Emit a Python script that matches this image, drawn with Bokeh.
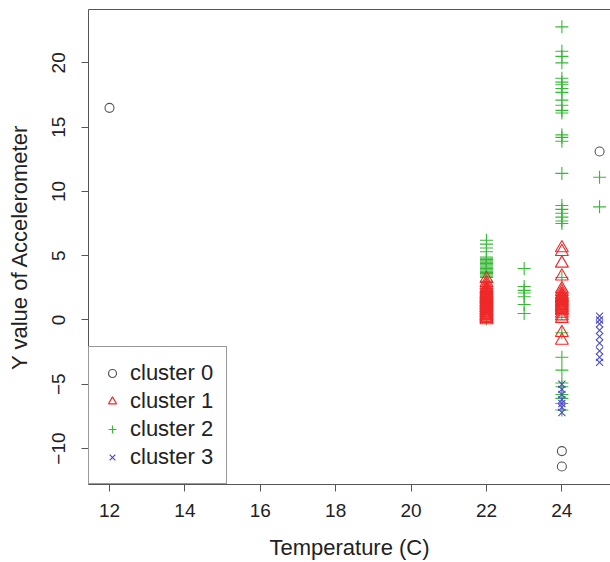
from bokeh.plotting import figure
from bokeh.models import Range1d, FixedTicker, LinearAxis, Legend, LegendItem, ColumnDataSource
from bokeh.embed import file_html
from bokeh.resources import INLINE

# ---- data ----
# cluster 0 (circles)
c0_temp = [12, 24, 24, 25]
c0_y = [16.5, -10.2, -11.4, 13.1]

# cluster 1 (triangles)
c1_y_at22 = [0.0, 0.1, 0.15, 0.2, 0.3, 0.35, 0.4, 0.5, 0.55, 0.6, 0.7, 0.75, 0.8, 0.9, 0.95,
             1.0, 1.1, 1.15, 1.2, 1.3, 1.35, 1.4, 1.5, 1.55, 1.6, 1.7, 1.75, 1.8, 1.9, 1.95,
             2.0, 2.1, 2.2, 2.3, 2.4, 2.5, 2.7, 2.9, 3.2]
c1_y_at24 = [5.6, 5.3, 4.4, 3.4, 2.4, 2.2, 2.0, 1.9, 1.8, 1.7, 1.6, 1.5, 1.4, 1.3, 1.2,
             1.1, 1.0, 0.9, 0.8, 0.7, 0.5, 0.3, 0.1, -1.0, -1.6]

# cluster 2 (plus signs)
c2_y_at22 = [6.2, 5.9, 5.6, 5.3, 4.9, 4.8, 4.7, 4.6, 4.5, 4.4, 4.3, 4.2, 4.1, 4.0, 3.9,
             3.8, 3.7, 3.6, 3.5, 3.4, 3.3, 3.0, 2.6, 2.2, 1.5, 0.5, 0.1]
c2_y_at23 = [4.0, 2.6, 2.3, 2.1, 1.8, 1.2, 0.5]
c2_y_at24 = [22.8, 20.9, 20.5, 20.0, 18.8, 18.5, 18.3, 18.0, 17.7, 17.1, 16.7, 16.3, 16.1,
             14.4, 14.2, 13.9, 11.4, 8.9, 8.6, 8.3, 8.0, 7.7, 7.5, 3.3, 1.5, 0.5, -1.0,
             -2.9, -3.9, -4.9, -5.2, -5.8, -6.1, -6.5, -7.0]
c2_y_at25 = [11.1, 8.8]

# cluster 3 (x marks)
c3_y_at24 = [-5.0, -5.4, -5.8, -6.2, -6.5, -6.8, -7.2]
c3_y_at25 = [0.3, 0.0, -0.3, -0.8, -1.3, -1.8, -2.4, -2.9, -3.3]

labels = ["cluster 0", "cluster 1", "cluster 2", "cluster 3"]
x_ticks = [12, 14, 16, 18, 20, 22, 24]
y_ticks = [-10, -5, 0, 5, 10, 15, 20]

c1_temp = [22] * len(c1_y_at22) + [24] * len(c1_y_at24)
c1_y = c1_y_at22 + c1_y_at24
c2_temp = ([22] * len(c2_y_at22) + [23] * len(c2_y_at23)
           + [24] * len(c2_y_at24) + [25] * len(c2_y_at25))
c2_y = c2_y_at22 + c2_y_at23 + c2_y_at24 + c2_y_at25
c3_temp = [24] * len(c3_y_at24) + [25] * len(c3_y_at25)
c3_y = c3_y_at24 + c3_y_at25

# ---- styling ----
FONT = "Liberation Sans"
AX = "#555555"
TXT = "#222222"
COL0 = "#555555"
COL1 = "#f02828"
COL2 = "#38b838"
COL3 = "#4a4ac8"

p = figure(width=610, height=562, output_backend="svg", toolbar_location=None,
           x_range=Range1d(11.443, 25.29), y_range=Range1d(-12.8, 24.15),
           min_border_left=88, min_border_right=0, min_border_top=9, min_border_bottom=77)
p.outline_line_color = None
p.grid.visible = False
p.background_fill_color = "white"
p.border_fill_color = "white"

for ax in (p.xaxis[0], p.yaxis[0]):
    ax.axis_line_color = AX
    ax.major_tick_line_color = AX
    ax.major_tick_in = 0
    ax.major_tick_out = 7
    ax.minor_tick_line_color = None
    ax.major_label_text_font = FONT
    ax.major_label_text_font_size = "19px"
    ax.major_label_text_color = TXT
    ax.axis_label_text_font = FONT
    ax.axis_label_text_font_size = "22px"
    ax.axis_label_text_font_style = "normal"
    ax.axis_label_text_color = TXT

p.xaxis[0].ticker = FixedTicker(ticks=x_ticks)
p.yaxis[0].ticker = FixedTicker(ticks=y_ticks)
p.xaxis[0].axis_label = "Temperature (C)"
p.yaxis[0].axis_label = "Y value of Accelerometer"
p.yaxis[0].major_label_orientation = "vertical"
p.xaxis[0].major_label_standoff = 12
p.xaxis[0].axis_label_standoff = 15
p.yaxis[0].major_label_standoff = 16
p.yaxis[0].axis_label_standoff = 18

top = LinearAxis(ticker=FixedTicker(ticks=[]), axis_line_color=AX,
                 major_tick_line_color=None, minor_tick_line_color=None,
                 major_label_text_font_size="0px", major_label_standoff=0)
p.add_layout(top, "above")

s0 = ColumnDataSource(dict(x=c0_temp, y=c0_y))
s1 = ColumnDataSource(dict(x=c1_temp, y=c1_y))
s2 = ColumnDataSource(dict(x=c2_temp, y=c2_y))
s3 = ColumnDataSource(dict(x=c3_temp, y=c3_y))

markers = ["circle", "triangle", "cross", "x"]
colors = [COL0, COL1, COL2, COL3]

r2 = p.scatter("x", "y", source=s2, marker="cross", size=13, fill_color=None,
               line_color=COL2, line_width=1.1)
r1 = p.scatter("x", "y", source=s1, marker="triangle", size=13, fill_color=None,
               line_color=COL1, line_width=1.1)
r3 = p.scatter("x", "y", source=s3, marker="x", size=10, fill_color=None,
               line_color=COL3, line_width=1.1)
r0 = p.scatter("x", "y", source=s0, marker="circle", size=9, fill_color=None,
               line_color=COL0, line_width=1.1)

# legend-only renderers: a single missing (NaN) point, never drawn in the plot
nan = float("nan")
leg_items = []
for lab, mk, col in zip(labels, markers, colors):
    lr = p.scatter(x=[nan], y=[nan], marker=mk, size=9, fill_color=None,
                   line_color=col, line_width=1.2)
    leg_items.append(LegendItem(label=lab, renderers=[lr], index=0))

legend = Legend(items=leg_items,
                location=(0, 0), margin=0, padding=13, spacing=2,
                glyph_width=20, glyph_height=24, label_height=24, label_standoff=8,
                label_text_font=FONT, label_text_font_size="22px", label_text_color=TXT,
                border_line_color="#333333", border_line_width=1,
                background_fill_color="white", background_fill_alpha=1.0)
p.add_layout(legend, "center")

open("out.html", "w").write(file_html(p, INLINE))
